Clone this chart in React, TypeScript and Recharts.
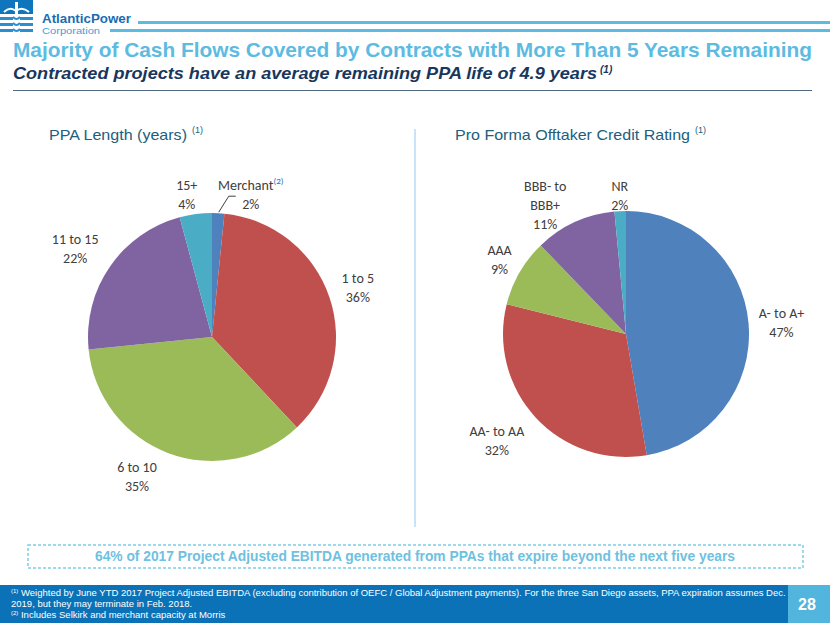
import { PieChart, Pie, Cell } from 'recharts';

// PPA length (left pie), clockwise from 12 o'clock
const ppaNames = ['Merchant', '1 to 5', '6 to 10', '11 to 15', '15+'];
const ppaValues = [1.6, 36.4, 35.4, 22.4, 4.2];
const ppaColors = ['#4F81BD', '#C0504D', '#9BBB59', '#8064A2', '#4BACC6'];

// Offtaker credit rating (right pie)
const ratingNames = ['A- to A+', 'AA- to AA', 'AAA', 'BBB- to BBB+', 'NR'];
const ratingValues = [47.3, 31.6, 8.9, 10.7, 1.5];
const ratingColors = ['#4F81BD', '#C0504D', '#9BBB59', '#8064A2', '#4BACC6'];

const ppaData = ppaNames.map((name, i) => ({ name, value: ppaValues[i] }));
const ratingData = ratingNames.map((name, i) => ({ name, value: ratingValues[i] }));

// label nudges (px) away from the default mid-angle spot, like Excel's best fit
const ppaShift = [[31, 12], [0, 0], [-21, -4], [-10, -1], [-5, 11]];
const ratingShift = [[3, 2], [-17, 3], [6, 3], [-17, 11], [1, 15]];

const RAD = Math.PI / 180;
const LABEL_FONT = 'Carlito, Lato, "Open Sans", sans-serif';
const ARIAL = '"Liberation Sans", Arial, sans-serif';

function wrap(name: string) {
  if (name.length > 10 && name.includes(' to ')) {
    const k = name.indexOf(' to ') + 3;
    return [name.slice(0, k), name.slice(k + 1)];
  }
  return [name];
}

function makeLabel(shift: number[][], merchantNote: boolean) {
  return (p: any) => {
    const d = p.outerRadius + 30;
    const x = p.cx + d * Math.cos(-p.midAngle * RAD) + shift[p.index][0];
    const y = p.cy + d * Math.sin(-p.midAngle * RAD) + shift[p.index][1];
    const lines = [...wrap(p.name), `${Math.round(p.value)}%`];
    const top = y - ((lines.length - 1) * 19) / 2;
    const note = merchantNote && p.index === 0;
    return (
      <g>
        {note && (
          <polyline
            points={`${x - 15},${y + 1} ${x - 22},${y + 1} ${x - 32},${y + 17}`}
            fill="none"
            stroke="#404040"
            strokeWidth={1}
          />
        )}
        {lines.map((t, i) => (
          <text
            key={i}
            x={x}
            y={top + i * 19}
            textAnchor="middle"
            dominantBaseline="central"
            fontFamily={LABEL_FONT}
            fontSize={14}
            fill="#404040"
          >
            {t}
            {note && i === 0 && (
              <tspan fontSize={9} fill="#1F6FB5" dy={-6}>
                (2)
              </tspan>
            )}
          </text>
        ))}
      </g>
    );
  };
}

function Decor() {
  return (
    <svg width={830} height={623} style={{ position: 'absolute', left: 0, top: 0 }}>
      {/* logo */}
      <rect x={0} y={0} width={33} height={14} fill="#0F75BC" />
      <path d="M4 12 Q10 6 16 11 Q22 6 29 12" stroke="#fff" strokeWidth={2} fill="none" />
      <rect x={15} y={2} width={3} height={12} fill="#fff" />
      {[17, 23, 29].map((yy, i) => (
        <g key={i}>
          <rect x={0} y={yy} width={13} height={3} fill="#2A8FD0" />
          <rect x={20} y={yy} width={13} height={3} fill="#2A8FD0" />
          <path d={`M13 ${yy} Q16.5 ${yy + 4} 20 ${yy}`} stroke="#2A8FD0" strokeWidth={2} fill="none" />
        </g>
      ))}
      <text x={42} y={23} fontFamily={ARIAL} fontWeight="bold" fontSize={12.5} fill="#1A6DB3" textLength={89} lengthAdjust="spacingAndGlyphs">
        AtlanticPower
      </text>
      <text x={42} y={33.5} fontFamily={ARIAL} fontSize={9} fill="#3AA3DC" textLength={58} lengthAdjust="spacingAndGlyphs">
        Corporation
      </text>
      <rect x={138} y={21} width={692} height={3} fill="#5BBCE0" />
      <rect x={110} y={29} width={720} height={3} fill="#5BBCE0" />

      {/* titles */}
      <text x={13} y={57} fontFamily={ARIAL} fontWeight="bold" fontSize={21} fill="#5DBBE2" textLength={799} lengthAdjust="spacingAndGlyphs">
        Majority of Cash Flows Covered by Contracts with More Than 5 Years Remaining
      </text>
      <text x={13} y={79} fontFamily={ARIAL} fontWeight="bold" fontStyle="italic" fontSize={17} fill="#17375E" textLength={584} lengthAdjust="spacingAndGlyphs">
        Contracted projects have an average remaining PPA life of 4.9 years
      </text>
      <text x={600} y={73} fontFamily={ARIAL} fontWeight="bold" fontStyle="italic" fontSize={10} fill="#17375E">
        (1)
      </text>
      <rect x={13} y={90} width={799} height={1} fill="#4F6A80" />

      {/* section titles */}
      <text x={49} y={140} fontFamily={ARIAL} fontSize={15} fill="#215E7E" textLength={138} lengthAdjust="spacingAndGlyphs">
        PPA Length (years)
      </text>
      <text x={192} y={133} fontFamily={ARIAL} fontSize={9} fill="#215E7E">(1)</text>
      <text x={455} y={140} fontFamily={ARIAL} fontSize={15} fill="#215E7E" textLength={235} lengthAdjust="spacingAndGlyphs">
        Pro Forma Offtaker Credit Rating
      </text>
      <text x={695} y={133} fontFamily={ARIAL} fontSize={9} fill="#215E7E">(1)</text>

      {/* divider */}
      <rect x={414} y={129} width={2} height={398} fill="#C9E3FA" />

      {/* callout */}
      <rect x={28} y={545} width={775} height={23} fill="none" stroke="#7DCDE8" strokeWidth={1.5} strokeDasharray="3 2" />
      <text x={95} y={561} fontFamily={ARIAL} fontWeight="bold" fontSize={14.5} fill="#6EC1E0" textLength={640} lengthAdjust="spacingAndGlyphs">
        64% of 2017 Project Adjusted EBITDA generated from PPAs that expire beyond the next five years
      </text>

      {/* footer */}
      <rect x={0} y={585} width={788} height={38} fill="#0B72B8" />
      <rect x={788} y={585} width={42} height={38} fill="#52B5DE" />
      <text x={807} y={610} textAnchor="middle" fontFamily={ARIAL} fontWeight="bold" fontSize={16} fill="#fff">28</text>
      <g fontFamily={ARIAL} fontSize={9.5} fill="#fff">
        <text x={11} y={596}>
          <tspan fontSize={6} dy={-3}>(1)</tspan>
          <tspan dy={3}> Weighted by June YTD 2017 Project Adjusted EBITDA (excluding contribution of OEFC / Global Adjustment payments).  For the three San Diego assets, PPA expiration assumes Dec.</tspan>
        </text>
        <text x={11} y={607}>2019, but they may terminate in Feb. 2018.</text>
        <text x={11} y={618}>
          <tspan fontSize={6} dy={-3}>(2)</tspan>
          <tspan dy={3}> Includes Selkirk and merchant capacity at Morris</tspan>
        </text>
      </g>
    </svg>
  );
}

export default function App() {
  return (
    <div style={{ position: 'absolute', left: 0, top: 0, width: 830, height: 623, overflow: 'hidden', background: '#fff' }}>
      <Decor />
      <div style={{ position: 'absolute', left: 12, top: 130 }}>
        <PieChart width={400} height={400}>
          <Pie
            data={ppaData}
            dataKey="value"
            nameKey="name"
            cx={195}
            cy={202}
            outerRadius={124}
            startAngle={90}
            endAngle={-270}
            stroke="none"
            labelLine={false}
            label={makeLabel(ppaShift, true)}
            isAnimationActive={false}
          >
            {ppaData.map((_, i) => (
              <Cell key={i} fill={ppaColors[i]} />
            ))}
          </Pie>
        </PieChart>
      </div>
      <div style={{ position: 'absolute', left: 426, top: 130 }}>
        <PieChart width={400} height={400}>
          <Pie
            data={ratingData}
            dataKey="value"
            nameKey="name"
            cx={195}
            cy={199}
            outerRadius={123}
            startAngle={90}
            endAngle={-270}
            stroke="none"
            labelLine={false}
            label={makeLabel(ratingShift, false)}
            isAnimationActive={false}
          >
            {ratingData.map((_, i) => (
              <Cell key={i} fill={ratingColors[i]} />
            ))}
          </Pie>
        </PieChart>
      </div>
    </div>
  );
}
